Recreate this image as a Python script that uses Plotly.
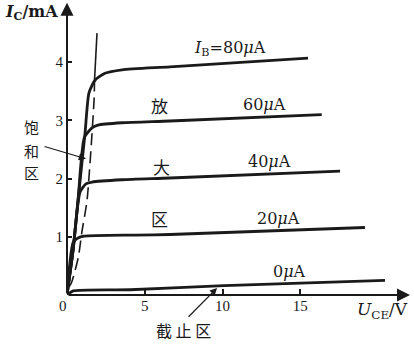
import plotly.graph_objects as go

# ---- data (U_CE in V, I_C in mA) ----
ib80_v = [0, 0.39, 0.71, 1.16, 1.41, 1.80, 2.44, 3.54, 6.62, 15.5]
ib80_i = [0, 0.77, 1.63, 2.78, 3.47, 3.69, 3.81, 3.87, 3.92, 4.07]

ib60_v = [0, 0.39, 0.71, 1.12, 1.61, 1.99, 3.54, 6.62, 16.38]
ib60_i = [0, 0.77, 1.63, 2.71, 2.87, 2.92, 2.96, 2.99, 3.10]

ib40_v = [0, 0.39, 0.84, 1.22, 1.61, 3.54, 6.62, 17.56]
ib40_i = [0, 0.77, 1.77, 1.91, 1.94, 1.98, 2.01, 2.13]

ib20_v = [0, 0.40, 0.71, 1.09, 4.37, 6.62, 19.16]
ib20_i = [0, 0.91, 0.98, 1.01, 1.03, 1.04, 1.16]

ib0_v = [0, 0.40, 4.05, 10.1, 20.45]
ib0_i = [0, 0.07, 0.09, 0.16, 0.25]

sat_dash_v = [0.13, 0.30, 0.73, 0.95, 1.29, 1.74, 1.77]
sat_dash_i = [0.14, 0.22, 0.65, 1.07, 1.63, 3.35, 3.69]
sat_solid_v = [1.77, 1.93]
sat_solid_i = [3.69, 4.50]

x_ticks = [5, 10, 15]
y_ticks = [1, 2, 3, 4]

INK = "#1a1a1a"
SERIF = "Liberation Serif"
WSERIF = "DejaVu Serif"
CJK = "Noto Sans CJK SC"

fig = go.Figure()
for v, i in [(ib80_v, ib80_i), (ib60_v, ib60_i), (ib40_v, ib40_i),
             (ib20_v, ib20_i), (ib0_v, ib0_i)]:
    fig.add_trace(go.Scatter(x=v, y=i, mode="lines",
                             line=dict(color=INK, width=2.8, shape="spline", smoothing=0.6),
                             showlegend=False, hoverinfo="skip", cliponaxis=False))

fig.add_trace(go.Scatter(x=sat_dash_v, y=sat_dash_i, mode="lines",
                         line=dict(color=INK, width=1.6, dash="12px,6px", shape="spline", smoothing=0.6),
                         showlegend=False, hoverinfo="skip", cliponaxis=False))
fig.add_trace(go.Scatter(x=sat_solid_v, y=sat_solid_i, mode="lines",
                         line=dict(color=INK, width=1.6),
                         showlegend=False, hoverinfo="skip", cliponaxis=False))

ann = []
# axes with arrows
ann.append(dict(x=22.06, y=0, ax=0, ay=0, xref="x", yref="y", axref="x", ayref="y",
                text="", showarrow=True, arrowhead=2, arrowsize=1.3, arrowwidth=2,
                arrowcolor=INK, standoff=0))
ann.append(dict(x=0, y=5.02, ax=0, ay=0, xref="x", yref="y", axref="x", ayref="y",
                text="", showarrow=True, arrowhead=2, arrowsize=1.3, arrowwidth=2,
                arrowcolor=INK, standoff=0))
# region arrows
ann.append(dict(x=1.22, y=2.34, ax=-1.54, ay=2.56, xref="x", yref="y", axref="x", ayref="y",
                text="", showarrow=True, arrowhead=2, arrowsize=1.2, arrowwidth=1.2,
                arrowcolor=INK, standoff=0))
ann.append(dict(x=9.65, y=0.12, ax=7.72, ay=-0.40, xref="x", yref="y", axref="x", ayref="y",
                text="", showarrow=True, arrowhead=2, arrowsize=1.2, arrowwidth=1.2,
                arrowcolor=INK, standoff=0))


def txt(x, y, s, size, family=SERIF, ref="data"):
    r = ("x", "y") if ref == "data" else ("paper", "paper")
    ann.append(dict(x=x, y=y, xref=r[0], yref=r[1], text=s, showarrow=False,
                    font=dict(family=family, size=size, color=INK),
                    xanchor="center", yanchor="middle", borderpad=0))


txt(10.48, 4.23, "<i>I</i><sub>B</sub>=80<i>μ</i>A", 16, WSERIF)
txt(12.73, 3.28, "60<i>μ</i>A", 16, WSERIF)
txt(13.05, 2.29, "40<i>μ</i>A", 16, WSERIF)
txt(13.63, 1.31, "20<i>μ</i>A", 16, WSERIF)
txt(14.34, 0.40, "0<i>μ</i>A", 16, WSERIF)
txt(5.98, 3.26, "放", 17, CJK)
txt(6.05, 2.20, "大", 17, CJK)
txt(5.98, 1.31, "区", 17, CJK)
# texts outside the plotting area (paper coordinates)
txt(-0.1009, 0.5695, "饱", 15, CJK, "paper")
txt(-0.1009, 0.4915, "和", 15, CJK, "paper")
txt(-0.1009, 0.4169, "区", 15, CJK, "paper")
txt(0.337, -0.1186, "截 止 区", 16, CJK, "paper")
txt(0.9078, -0.0542, "<i>U</i><sub>CE</sub>/V", 17, WSERIF, "paper")
txt(-0.1037, 0.959, "<b><i>I</i><sub>C</sub>/mA</b>", 16, WSERIF, "paper")
txt(-0.0115, -0.0373, "0", 15, SERIF, "paper")

fig.update_layout(
    width=414, height=347, autosize=False,
    margin=dict(l=67, r=0, t=0, b=52),
    paper_bgcolor="white", plot_bgcolor="white",
    annotations=ann,
    xaxis=dict(range=[0, 22.315], tickvals=x_ticks, ticks="inside", ticklen=6,
               tickwidth=1.5, tickcolor=INK, showgrid=False, zeroline=False,
               showline=False, tickfont=dict(family=SERIF, size=15, color=INK),
               fixedrange=True),
    yaxis=dict(range=[0, 5.069], tickvals=y_ticks, ticks="inside", ticklen=5,
               tickwidth=1.5, tickcolor=INK, showgrid=False, zeroline=False,
               showline=False, tickfont=dict(family=SERIF, size=15, color=INK),
               ticklabelstandoff=3, fixedrange=True),
)

fig.write_html("out.html")
